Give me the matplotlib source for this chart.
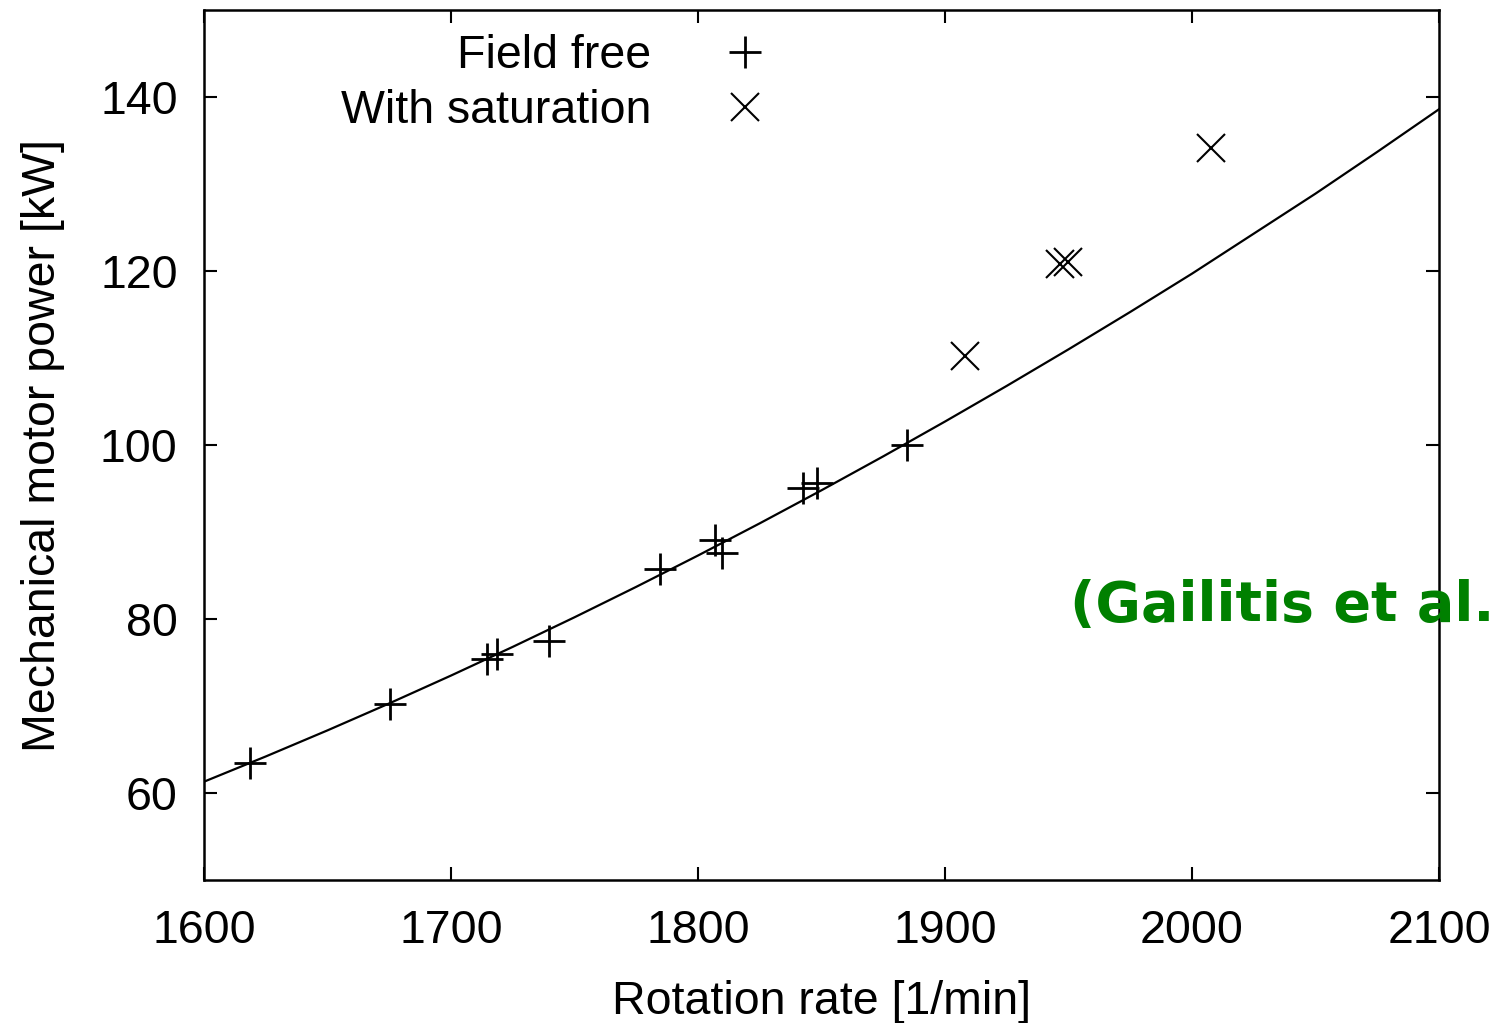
import matplotlib
matplotlib.use("Agg")
import matplotlib.pyplot as plt

# Field free measurements
free_rpm = [1618.6, 1675.3, 1714.7, 1718.5, 1739.8, 1784.6, 1806.9, 1809.7, 1842.6, 1848.0, 1884.7]
free_kw = [63.4, 70.2, 75.4, 76.0, 77.5, 85.7, 89.1, 87.6, 95.1, 95.6, 100.0]

# With saturation measurements
sat_rpm = [1908.1, 1946.6, 1949.9, 2007.7]
sat_kw = [110.2, 120.8, 121.0, 134.1]

# Curve
curve_rpm = [1600, 1625, 1650, 1675, 1700, 1725, 1750, 1775, 1800, 1825, 1850, 1875,
             1900, 1925, 1950, 1975, 2000, 2025, 2050, 2075, 2100]
curve_kw = [61.3, 64.2, 67.2, 70.3, 73.5, 76.8, 80.2, 83.7, 87.3, 91.0, 94.8, 98.7,
            102.7, 106.8, 111.0, 115.3, 119.7, 124.3, 128.9, 133.7, 138.6]

xticks = [1600, 1700, 1800, 1900, 2000, 2100]
yticks = [60, 80, 100, 120, 140]

plt.rcParams['font.family'] = ['Liberation Sans', 'DejaVu Sans']

fig = plt.figure(figsize=(14.97, 10.23), dpi=100)
ax = fig.add_axes([0.1363, 0.1398, 0.825, 0.8504])

ax.plot(curve_rpm, curve_kw, color='black', lw=1.6, zorder=2)
ax.plot(free_rpm, free_kw, ls='none', marker='+', ms=23, mew=2.0, color='black',
        label='Field free', zorder=3)
ax.plot(sat_rpm, sat_kw, ls='none', marker='x', ms=20, mew=1.5, color='black',
        label='With saturation', zorder=3)

ax.set_xlim(1600, 2100)
ax.set_ylim(50, 150)
ax.set_xticks(xticks)
ax.set_yticks(yticks)
ax.tick_params(direction='in', length=9.5, width=1.5, top=True, right=True,
               labelsize=33.5, colors='black')
ax.tick_params(axis='x', pad=21)
ax.tick_params(axis='y', pad=19)
for s in ax.spines.values():
    s.set_linewidth(1.8)

ax.set_xlabel('Rotation rate [1/min]', fontsize=33.5, labelpad=19)
ax.set_ylabel('Mechanical motor power [kW]', fontsize=33.5, labelpad=25)

leg = ax.legend(loc='upper left', bbox_to_anchor=(0.096, 0.994), frameon=False,
                fontsize=33.5, markerfirst=False, handlelength=1.2, handletextpad=1.4,
                labelspacing=0.25, borderaxespad=0)
for t in leg.get_texts():
    t.set_ha('right')
leg._legend_box.align = 'right'

fig.text(1070/1497, 1-621/1023, '(Gailitis et al.', color='#008000', fontsize=40,
         fontweight='bold', family=['DejaVu Sans'], ha='left', va='baseline')

fig.savefig('out.png', dpi=100)
